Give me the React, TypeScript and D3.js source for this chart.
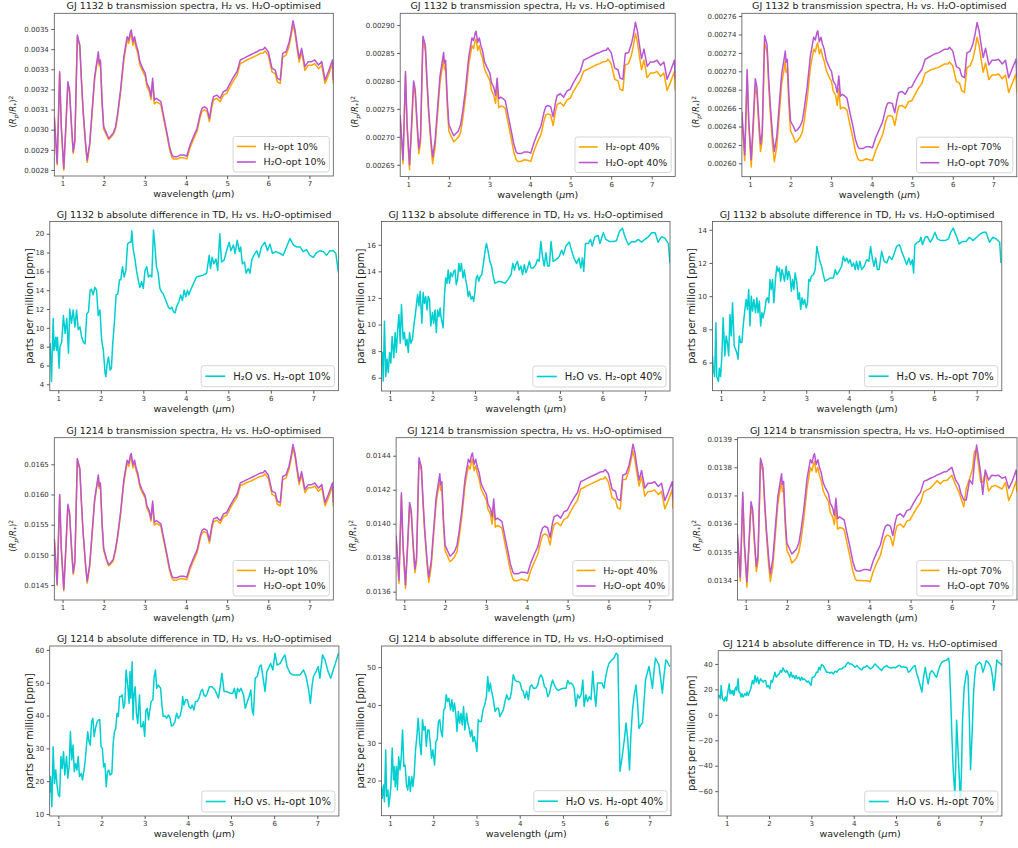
import React, { useEffect, useRef } from 'react'
import * as d3 from 'd3'

const FONT = "'DejaVu Sans', sans-serif"
const ORANGE = '#ffa500'
const PURPLE = '#ba55d3'
const CYAN = '#00ced1'

// wavelength grid of the transmission spectra (µm)
const wl = [
  0.80, 0.84, 0.87, 0.93, 0.97, 1.03, 1.08, 1.13, 1.17, 1.22,
  1.26, 1.30, 1.36, 1.39, 1.42, 1.46, 1.50, 1.56, 1.60, 1.66,
  1.72, 1.78, 1.84, 1.87, 1.89, 1.92, 1.96, 2.00, 2.07, 2.12,
  2.16, 2.23, 2.29, 2.34, 2.41, 2.49, 2.57, 2.61, 2.65, 2.67,
  2.71, 2.75, 2.79, 2.83, 2.88, 2.93, 2.97, 3.01, 3.05, 3.11,
  3.15, 3.19, 3.23, 3.28, 3.34, 3.39, 3.46, 3.54, 3.60, 3.66,
  3.70, 3.78, 3.86, 3.94, 4.02, 4.10, 4.18, 4.27, 4.35, 4.39,
  4.44, 4.51, 4.57, 4.63, 4.67, 4.75, 4.83, 4.91, 4.99, 5.07,
  5.16, 5.24, 5.32, 5.40, 5.48, 5.56, 5.64, 5.72, 5.80, 5.88,
  5.92, 6.00, 6.09, 6.17, 6.22, 6.29, 6.35, 6.43, 6.50, 6.55,
  6.60, 6.65, 6.70, 6.75, 6.81, 6.89, 6.97, 7.05, 7.13, 7.22,
  7.30, 7.38, 7.46, 7.56, 7.58,
]

// transit depth (Rp/R*)^2 in units of 1e-6
const gj1132H2_10 = [
  3057, 2924, 2825, 3280, 3007, 2799, 3006, 3229, 3188, 3006,
  2882, 2940, 3460, 3435, 3411, 3237, 3088, 2922, 2838, 2921,
  3085, 3250, 3333, 3374, 3317, 3333, 3134, 3002, 2973, 2951,
  2959, 2976, 3005, 3068, 3184, 3347, 3446, 3429, 3468, 3476,
  3418, 3443, 3404, 3379, 3321, 3298, 3281, 3265, 3215, 3190,
  3149, 3236, 3128, 3137, 3132, 3124, 3050, 2969, 2903, 2861,
  2854, 2854, 2862, 2860, 2855, 2910, 2951, 2993, 3066, 3091,
  3099, 3091, 3040, 3115, 3148, 3156, 3139, 3172, 3180, 3212,
  3245, 3270, 3328, 3337, 3346, 3354, 3361, 3369, 3378, 3381,
  3391, 3369, 3287, 3278, 3237, 3229, 3361, 3369, 3411, 3460,
  3523, 3477, 3403, 3336, 3386, 3295, 3320, 3320, 3328, 3303,
  3320, 3229, 3270, 3328, 3229,
]
const gj1132H2O_10 = [
  3065, 2932, 2833, 3288, 3015, 2808, 3015, 3238, 3197, 3015,
  2891, 2949, 3470, 3445, 3421, 3247, 3098, 2932, 2849, 2932,
  3098, 3263, 3346, 3387, 3330, 3346, 3147, 3015, 2982, 2957,
  2965, 2982, 3015, 3081, 3197, 3363, 3462, 3445, 3487, 3495,
  3437, 3462, 3421, 3396, 3338, 3313, 3296, 3280, 3230, 3205,
  3164, 3255, 3147, 3156, 3147, 3139, 3065, 2982, 2916, 2874,
  2866, 2866, 2874, 2874, 2869, 2924, 2965, 3007, 3081, 3106,
  3114, 3106, 3056, 3131, 3164, 3172, 3156, 3189, 3197, 3230,
  3263, 3288, 3346, 3354, 3363, 3371, 3379, 3387, 3396, 3399,
  3409, 3387, 3305, 3296, 3255, 3247, 3379, 3387, 3429, 3478,
  3541, 3495, 3421, 3354, 3404, 3313, 3338, 3338, 3346, 3321,
  3338, 3247, 3288, 3346, 3247,
]
const gj1132H2_40 = [
  2732, 2686, 2652, 2810, 2715, 2641, 2713, 2791, 2776, 2713,
  2670, 2690, 2871, 2863, 2854, 2794, 2742, 2684, 2652, 2681,
  2739, 2796, 2825, 2839, 2820, 2825, 2756, 2710, 2699, 2691,
  2694, 2699, 2708, 2731, 2771, 2829, 2863, 2858, 2872, 2875,
  2855, 2863, 2849, 2841, 2821, 2813, 2807, 2801, 2783, 2774,
  2760, 2789, 2752, 2755, 2754, 2751, 2725, 2696, 2673, 2659,
  2656, 2656, 2659, 2658, 2656, 2675, 2690, 2704, 2730, 2739,
  2741, 2739, 2720, 2746, 2758, 2761, 2755, 2766, 2769, 2781,
  2792, 2801, 2817, 2820, 2823, 2826, 2829, 2831, 2834, 2835,
  2839, 2831, 2803, 2800, 2785, 2783, 2829, 2831, 2846, 2863,
  2885, 2869, 2843, 2820, 2837, 2806, 2814, 2814, 2817, 2808,
  2814, 2783, 2797, 2817, 2783,
]
const gj1132H2O_40 = [
  2739, 2693, 2659, 2817, 2722, 2650, 2722, 2800, 2785, 2722,
  2679, 2699, 2880, 2872, 2863, 2803, 2751, 2693, 2664, 2693,
  2751, 2808, 2837, 2851, 2832, 2837, 2768, 2722, 2710, 2702,
  2705, 2710, 2722, 2745, 2785, 2843, 2877, 2872, 2886, 2889,
  2869, 2877, 2863, 2854, 2834, 2826, 2820, 2814, 2797, 2788,
  2774, 2805, 2768, 2771, 2768, 2765, 2739, 2710, 2687, 2673,
  2670, 2670, 2673, 2673, 2671, 2690, 2705, 2719, 2745, 2754,
  2756, 2754, 2736, 2762, 2774, 2777, 2771, 2782, 2785, 2797,
  2808, 2817, 2837, 2840, 2843, 2846, 2849, 2851, 2854, 2855,
  2859, 2851, 2823, 2820, 2805, 2803, 2849, 2851, 2866, 2883,
  2905, 2889, 2863, 2840, 2857, 2826, 2834, 2834, 2837, 2828,
  2834, 2803, 2817, 2837, 2803,
]
const gj1132H2_70 = [
  2650, 2623, 2603, 2696, 2640, 2596, 2638, 2684, 2675, 2638,
  2613, 2625, 2731, 2726, 2721, 2685, 2655, 2618, 2602, 2618,
  2652, 2686, 2702, 2711, 2699, 2702, 2662, 2635, 2629, 2623,
  2624, 2628, 2634, 2647, 2670, 2704, 2724, 2721, 2729, 2731,
  2719, 2724, 2716, 2711, 2701, 2696, 2692, 2689, 2679, 2674,
  2663, 2681, 2659, 2661, 2660, 2658, 2643, 2627, 2613, 2605,
  2603, 2603, 2605, 2604, 2603, 2614, 2622, 2631, 2646, 2651,
  2652, 2651, 2641, 2655, 2662, 2663, 2660, 2667, 2668, 2675,
  2682, 2687, 2698, 2700, 2702, 2703, 2704, 2706, 2708, 2708,
  2710, 2706, 2689, 2687, 2679, 2677, 2704, 2706, 2714, 2724,
  2737, 2728, 2713, 2699, 2709, 2691, 2696, 2696, 2697, 2692,
  2696, 2677, 2686, 2697, 2677,
]
const gj1132H2O_70 = [
  2656, 2629, 2609, 2702, 2646, 2604, 2646, 2692, 2683, 2646,
  2621, 2633, 2739, 2734, 2729, 2693, 2663, 2629, 2613, 2629,
  2663, 2697, 2713, 2722, 2710, 2713, 2673, 2646, 2640, 2635,
  2636, 2640, 2646, 2660, 2683, 2717, 2737, 2734, 2742, 2744,
  2732, 2737, 2729, 2724, 2712, 2707, 2703, 2700, 2690, 2685,
  2677, 2695, 2673, 2675, 2673, 2671, 2656, 2640, 2626, 2618,
  2616, 2616, 2618, 2618, 2617, 2628, 2636, 2645, 2660, 2665,
  2666, 2665, 2655, 2670, 2677, 2678, 2675, 2682, 2683, 2690,
  2697, 2702, 2713, 2715, 2717, 2719, 2720, 2722, 2724, 2724,
  2726, 2722, 2705, 2703, 2695, 2693, 2720, 2722, 2730, 2740,
  2753, 2744, 2729, 2715, 2725, 2707, 2712, 2712, 2713, 2708,
  2712, 2693, 2702, 2713, 2693,
]
const gj1214H2_10 = [
  15251, 14816, 14492, 15980, 15087, 14405, 15082, 15811, 15677, 15082,
  14677, 14866, 16570, 16488, 16410, 15841, 15354, 14811, 14531, 14803,
  15346, 15885, 16157, 16291, 16104, 16157, 15506, 15074, 14905, 14818,
  14838, 14898, 15069, 15285, 15664, 16198, 16522, 16466, 16604, 16630,
  16440, 16522, 16388, 16306, 16125, 16044, 15988, 15936, 15772, 15691,
  15557, 15844, 15491, 15520, 15499, 15473, 15231, 14959, 14744, 14606,
  14580, 14580, 14606, 14602, 14586, 14766, 14900, 15037, 15279, 15361,
  15384, 15358, 15194, 15440, 15548, 15574, 15521, 15629, 15655, 15764,
  15872, 15954, 16144, 16170, 16199, 16217, 16244, 16270, 16299, 16309,
  16342, 16270, 16002, 15972, 15838, 15812, 16246, 16272, 16409, 16569,
  16775, 16625, 16383, 16164, 16327, 16030, 16111, 16111, 16138, 16053,
  16108, 15811, 15945, 16135, 15811,
]
const gj1214H2O_10 = [
  15271, 14836, 14512, 16000, 15107, 14430, 15107, 15836, 15702, 15107,
  14702, 14891, 16595, 16513, 16435, 15866, 15379, 14836, 14564, 14836,
  15379, 15918, 16190, 16324, 16137, 16190, 15539, 15107, 14930, 14840,
  14860, 14920, 15107, 15323, 15702, 16245, 16569, 16513, 16651, 16677,
  16487, 16569, 16435, 16353, 16163, 16082, 16026, 15974, 15810, 15729,
  15595, 15892, 15539, 15568, 15539, 15513, 15271, 14999, 14784, 14646,
  14620, 14620, 14646, 14646, 14630, 14810, 14944, 15081, 15323, 15405,
  15431, 15405, 15241, 15487, 15595, 15621, 15568, 15676, 15702, 15810,
  15918, 16000, 16190, 16216, 16245, 16271, 16298, 16324, 16353, 16363,
  16396, 16324, 16056, 16026, 15892, 15866, 16298, 16324, 16461, 16621,
  16827, 16677, 16435, 16216, 16379, 16082, 16163, 16163, 16190, 16108,
  16163, 15866, 16000, 16190, 15866,
]
const gj1214H2_40 = [
  13912, 13762, 13650, 14164, 13855, 13618, 13851, 14103, 14057, 13851,
  13711, 13777, 14366, 14337, 14310, 14114, 13945, 13758, 13654, 13748,
  13935, 14122, 14215, 14262, 14197, 14215, 13991, 13841, 13804, 13776,
  13785, 13804, 13835, 13910, 14041, 14229, 14341, 14321, 14369, 14378,
  14312, 14341, 14294, 14266, 14206, 14178, 14159, 14141, 14084, 14056,
  13998, 14101, 13979, 13989, 13983, 13974, 13890, 13796, 13722, 13674,
  13665, 13665, 13674, 13669, 13663, 13726, 13772, 13819, 13903, 13931,
  13940, 13931, 13875, 13960, 13997, 14006, 13988, 14025, 14034, 14071,
  14109, 14137, 14204, 14213, 14224, 14233, 14242, 14251, 14261, 14264,
  14276, 14244, 14151, 14141, 14095, 14086, 14259, 14261, 14311, 14372,
  14429, 14372, 14292, 14222, 14277, 14162, 14190, 14190, 14199, 14171,
  14190, 14088, 14134, 14199, 14088,
]
const gj1214H2O_40 = [
  13930, 13780, 13668, 14182, 13873, 13640, 13873, 14125, 14079, 13873,
  13733, 13799, 14388, 14359, 14332, 14136, 13967, 13780, 13686, 13780,
  13967, 14154, 14247, 14294, 14229, 14247, 14023, 13873, 13836, 13808,
  13817, 13836, 13873, 13948, 14079, 14267, 14379, 14359, 14407, 14416,
  14350, 14379, 14332, 14304, 14238, 14210, 14191, 14173, 14116, 14088,
  14042, 14145, 14023, 14033, 14023, 14014, 13930, 13836, 13762, 13714,
  13705, 13705, 13714, 13714, 13708, 13771, 13817, 13864, 13948, 13976,
  13985, 13976, 13920, 14005, 14042, 14051, 14033, 14070, 14079, 14116,
  14154, 14182, 14247, 14256, 14267, 14276, 14285, 14294, 14304, 14307,
  14319, 14294, 14201, 14191, 14145, 14136, 14285, 14294, 14341, 14397,
  14468, 14416, 14332, 14256, 14313, 14210, 14238, 14238, 14247, 14219,
  14238, 14136, 14182, 14247, 14136,
]
const gj1214H2_70 = [
  13550, 13462, 13396, 13697, 13517, 13375, 13512, 13659, 13632, 13512,
  13430, 13468, 13816, 13799, 13783, 13668, 13570, 13450, 13395, 13450,
  13560, 13669, 13724, 13751, 13713, 13724, 13592, 13505, 13484, 13460,
  13466, 13477, 13499, 13540, 13617, 13727, 13799, 13787, 13815, 13820,
  13782, 13799, 13771, 13755, 13717, 13700, 13689, 13678, 13641, 13624,
  13597, 13652, 13580, 13586, 13584, 13579, 13530, 13475, 13431, 13403,
  13398, 13398, 13397, 13397, 13394, 13433, 13461, 13488, 13537, 13554,
  13559, 13554, 13521, 13570, 13592, 13598, 13587, 13609, 13614, 13636,
  13658, 13674, 13713, 13720, 13726, 13738, 13752, 13741, 13753, 13753,
  13759, 13772, 13737, 13713, 13690, 13660, 13725, 13759, 13793, 13858,
  13857, 13803, 13747, 13747, 13780, 13716, 13731, 13736, 13730, 13723,
  13746, 13682, 13709, 13751, 13711,
]
const gj1214H2O_70 = [
  13564, 13476, 13410, 13711, 13531, 13394, 13531, 13678, 13651, 13531,
  13449, 13487, 13832, 13815, 13799, 13684, 13586, 13476, 13421, 13476,
  13586, 13695, 13750, 13777, 13739, 13750, 13618, 13531, 13509, 13492,
  13498, 13509, 13531, 13574, 13651, 13761, 13827, 13815, 13843, 13848,
  13810, 13827, 13799, 13783, 13745, 13728, 13717, 13706, 13673, 13656,
  13629, 13690, 13618, 13624, 13618, 13613, 13564, 13509, 13465, 13437,
  13432, 13432, 13437, 13437, 13434, 13470, 13498, 13525, 13574, 13591,
  13596, 13591, 13558, 13607, 13629, 13635, 13624, 13646, 13651, 13673,
  13695, 13711, 13750, 13755, 13761, 13766, 13772, 13777, 13783, 13785,
  13791, 13800, 13755, 13737, 13707, 13684, 13684, 13755, 13740, 13820,
  13879, 13831, 13778, 13704, 13790, 13755, 13772, 13770, 13772, 13761,
  13766, 13725, 13749, 13790, 13749,
]

// absolute difference in transit depth, [wavelength µm, ppm]
const diff1132_10: [number, number][] = [
  [0.80, 6.9], [0.81, 8.3], [0.84, 4.3], [0.88, 11.0], [0.90, 7.6], [0.94, 9.0], [0.96, 7.6], [0.98, 9.0],
  [1.02, 5.7], [1.04, 8.0], [1.08, 8.5], [1.12, 11.3], [1.16, 9.4], [1.20, 11.0], [1.24, 7.3], [1.27, 12.0],
  [1.31, 10.5], [1.35, 11.9], [1.39, 10.1], [1.43, 11.9], [1.47, 9.8], [1.51, 10.1], [1.55, 9.0], [1.59, 8.5],
  [1.63, 8.3], [1.67, 11.5], [1.71, 11.7], [1.75, 14.0], [1.78, 14.1], [1.82, 13.5], [1.86, 14.3], [1.90, 14.0],
  [1.94, 11.3], [1.98, 11.9], [2.02, 8.7], [2.06, 7.6], [2.10, 5.2], [2.12, 4.8], [2.15, 6.2], [2.18, 6.9],
  [2.22, 5.5], [2.25, 5.7], [2.28, 8.3], [2.32, 10.6], [2.36, 13.5], [2.40, 13.6], [2.44, 15.1], [2.47, 15.1],
  [2.51, 16.5], [2.55, 15.4], [2.59, 16.1], [2.63, 18.9], [2.67, 19.1], [2.71, 19.1], [2.73, 20.3], [2.76, 18.4],
  [2.80, 17.4], [2.84, 16.1], [2.88, 15.1], [2.92, 14.3], [2.96, 14.9], [3.00, 14.2], [3.04, 16.1], [3.08, 16.5],
  [3.12, 15.4], [3.16, 15.6], [3.20, 15.4], [3.24, 20.4], [3.27, 18.9], [3.31, 16.5], [3.35, 15.8], [3.39, 14.2],
  [3.43, 13.8], [3.47, 13.6], [3.53, 12.9], [3.59, 12.2], [3.63, 12.0], [3.67, 12.2], [3.71, 11.7], [3.75, 11.6],
  [3.78, 12.2], [3.84, 12.8], [3.88, 13.5], [3.92, 12.9], [3.96, 14.0], [4.00, 13.3], [4.04, 14.0], [4.07, 13.5],
  [4.11, 14.0], [4.18, 14.7], [4.25, 15.4], [4.33, 15.5], [4.41, 15.6], [4.49, 15.8], [4.55, 17.7], [4.58, 16.3],
  [4.62, 17.5], [4.66, 16.8], [4.71, 17.3], [4.75, 16.1], [4.80, 20.0], [4.84, 17.0], [4.90, 17.2], [4.96, 18.2],
  [5.02, 19.1], [5.06, 18.2], [5.12, 18.8], [5.16, 17.9], [5.21, 19.3], [5.26, 18.1], [5.29, 18.6], [5.33, 16.8],
  [5.38, 17.0], [5.42, 15.8], [5.47, 16.3], [5.51, 15.8], [5.55, 17.2], [5.60, 17.7], [5.67, 18.2], [5.72, 17.5],
  [5.78, 18.6], [5.86, 19.1], [5.92, 18.2], [5.98, 18.9], [6.04, 17.9], [6.12, 18.1], [6.22, 17.9], [6.29, 17.7],
  [6.37, 18.6], [6.45, 19.5], [6.53, 18.8], [6.61, 18.6], [6.69, 18.6], [6.76, 18.1], [6.84, 18.3], [6.92, 17.7],
  [7.00, 17.5], [7.08, 18.0], [7.16, 18.2], [7.24, 18.1], [7.31, 17.7], [7.39, 18.2], [7.47, 18.2], [7.53, 17.9],
  [7.59, 15.9],
]
const diff1132_40: [number, number][] = [
  [0.80, 6.9], [0.82, 7.9], [0.84, 5.75], [0.87, 10.25], [0.90, 6.1], [0.93, 7.4], [0.96, 6.4], [0.99, 7.9],
  [1.02, 7.1], [1.05, 9.1], [1.09, 7.5], [1.12, 9.4], [1.15, 7.9], [1.18, 9.6], [1.21, 10.75], [1.24, 8.6],
  [1.27, 11.5], [1.31, 8.9], [1.34, 9.4], [1.37, 8.4], [1.40, 8.9], [1.43, 7.9], [1.46, 9.4], [1.49, 8.6],
  [1.53, 8.9], [1.56, 9.9], [1.59, 10.6], [1.62, 11.4], [1.65, 12.25], [1.68, 11.4], [1.71, 12.5], [1.75, 10.1],
  [1.78, 12.4], [1.81, 11.6], [1.84, 12.1], [1.87, 11.1], [1.90, 12.1], [1.93, 11.9], [1.96, 9.9], [2.00, 10.9],
  [2.03, 10.1], [2.06, 11.1], [2.09, 9.4], [2.12, 11.1], [2.15, 10.6], [2.18, 11.25], [2.20, 10.6], [2.25, 9.75],
  [2.28, 12.1], [2.31, 13.5], [2.34, 13.1], [2.37, 14.1], [2.40, 13.1], [2.43, 13.9], [2.47, 13.6], [2.50, 14.0],
  [2.53, 14.1], [2.56, 13.0], [2.59, 13.4], [2.62, 14.6], [2.65, 14.0], [2.68, 14.6], [2.72, 13.5], [2.75, 14.1],
  [2.78, 13.4], [2.81, 12.9], [2.84, 12.1], [2.87, 12.5], [2.91, 11.9], [2.94, 12.1], [2.97, 11.75], [3.00, 12.5],
  [3.03, 13.5], [3.06, 13.7], [3.09, 13.25], [3.12, 13.6], [3.16, 13.75], [3.20, 14.6], [3.24, 15.6], [3.27, 16.1],
  [3.31, 15.5], [3.35, 14.75], [3.39, 14.4], [3.43, 13.6], [3.47, 13.1], [3.55, 13.25], [3.63, 13.2], [3.71, 13.1],
  [3.78, 13.4], [3.85, 13.75], [3.89, 14.6], [3.93, 14.1], [3.96, 14.5], [4.00, 14.75], [4.04, 14.1], [4.08, 14.4],
  [4.12, 13.75], [4.16, 14.5], [4.20, 13.9], [4.24, 14.25], [4.28, 14.75], [4.32, 14.25], [4.37, 14.25], [4.43, 14.5],
  [4.47, 14.9], [4.51, 14.75], [4.55, 16.25], [4.59, 15.1], [4.63, 14.4], [4.67, 15.4], [4.71, 14.4], [4.75, 14.4],
  [4.79, 16.25], [4.84, 14.75], [4.92, 14.9], [4.98, 15.1], [5.04, 15.6], [5.08, 15.25], [5.14, 15.9], [5.22, 16.2],
  [5.27, 15.6], [5.33, 15.0], [5.39, 14.6], [5.45, 15.0], [5.49, 14.25], [5.53, 15.0], [5.56, 14.0], [5.60, 16.1],
  [5.67, 16.1], [5.72, 16.4], [5.76, 15.9], [5.82, 16.6], [5.90, 16.7], [5.94, 16.1], [6.02, 16.9], [6.08, 16.4],
  [6.16, 16.25], [6.25, 16.25], [6.33, 16.3], [6.40, 17.0], [6.47, 17.25], [6.53, 16.6], [6.61, 16.0], [6.69, 16.25],
  [6.76, 16.2], [6.84, 16.4], [6.92, 16.2], [7.00, 16.4], [7.08, 16.6], [7.16, 16.9], [7.24, 16.9], [7.31, 16.2],
  [7.39, 16.6], [7.47, 16.5], [7.55, 16.1], [7.59, 14.6],
]
const diff1132_70: [number, number][] = [
  [0.80, 6.4], [0.82, 5.6], [0.85, 5.15], [0.88, 8.4], [0.90, 5.15], [0.94, 4.85], [0.96, 5.65], [0.99, 5.15],
  [1.02, 6.4], [1.05, 8.7], [1.09, 6.4], [1.12, 7.6], [1.15, 7.2], [1.18, 6.4], [1.21, 8.9], [1.24, 7.6],
  [1.27, 9.6], [1.31, 7.0], [1.34, 6.8], [1.37, 6.6], [1.40, 6.2], [1.43, 7.6], [1.46, 7.2], [1.49, 7.2],
  [1.52, 8.2], [1.56, 9.2], [1.59, 9.8], [1.62, 9.2], [1.65, 10.4], [1.68, 8.2], [1.71, 10.0], [1.74, 9.1],
  [1.77, 9.8], [1.81, 9.0], [1.84, 9.9], [1.87, 9.0], [1.90, 9.7], [1.93, 8.2], [1.96, 9.0], [1.99, 8.7],
  [2.03, 9.2], [2.06, 9.8], [2.09, 9.9], [2.12, 9.6], [2.15, 11.0], [2.18, 10.4], [2.21, 11.0], [2.24, 9.6],
  [2.28, 11.1], [2.31, 11.8], [2.34, 11.5], [2.37, 11.7], [2.40, 10.9], [2.43, 11.6], [2.46, 11.3], [2.49, 10.9],
  [2.53, 11.8], [2.56, 11.0], [2.59, 11.5], [2.62, 11.2], [2.65, 10.3], [2.68, 11.0], [2.71, 10.4], [2.74, 11.4],
  [2.78, 10.8], [2.81, 9.8], [2.84, 10.2], [2.87, 9.2], [2.90, 9.9], [2.93, 9.5], [2.96, 9.8], [3.00, 9.3],
  [3.03, 9.6], [3.06, 11.0], [3.09, 10.9], [3.12, 11.2], [3.17, 11.3], [3.21, 11.6], [3.25, 13.0], [3.28, 12.6],
  [3.32, 12.1], [3.36, 11.8], [3.40, 11.3], [3.44, 10.9], [3.50, 11.0], [3.57, 11.1], [3.64, 11.1], [3.68, 11.6],
  [3.72, 11.3], [3.77, 11.5], [3.83, 11.8], [3.87, 12.4], [3.91, 12.1], [3.95, 12.3], [3.99, 12.0], [4.03, 12.2],
  [4.07, 11.8], [4.11, 12.0], [4.15, 11.6], [4.18, 12.1], [4.22, 11.6], [4.26, 12.1], [4.30, 11.6], [4.36, 11.8],
  [4.42, 12.2], [4.47, 12.1], [4.51, 13.0], [4.55, 12.3], [4.59, 11.8], [4.63, 12.3], [4.67, 11.6], [4.71, 11.6],
  [4.77, 12.7], [4.83, 12.1], [4.89, 12.0], [4.95, 12.4], [5.01, 12.2], [5.07, 12.6], [5.12, 13.0], [5.19, 13.1],
  [5.24, 12.7], [5.30, 12.3], [5.36, 11.9], [5.41, 12.3], [5.45, 11.9], [5.49, 12.2], [5.52, 11.4], [5.55, 13.1],
  [5.61, 13.25], [5.66, 13.3], [5.69, 13.55], [5.73, 13.1], [5.79, 13.55], [5.84, 13.6], [5.91, 13.25], [5.96, 13.45],
  [6.02, 13.85], [6.08, 13.45], [6.16, 13.35], [6.26, 13.35], [6.34, 13.45], [6.39, 13.85], [6.45, 14.1], [6.52, 13.65],
  [6.59, 13.15], [6.67, 13.3], [6.75, 13.3], [6.83, 13.55], [6.91, 13.35], [7.00, 13.55], [7.08, 13.75], [7.16, 13.85],
  [7.22, 13.85], [7.30, 13.25], [7.38, 13.55], [7.46, 13.45], [7.54, 13.25], [7.57, 12.0],
]
const diff1214_10: [number, number][] = [
  [0.80, 16.5], [0.82, 21.4], [0.85, 12.2], [0.88, 30.5], [0.91, 19.3], [0.94, 23.4], [0.97, 18.8], [1.00, 15.8],
  [1.03, 15.3], [1.06, 27.5], [1.09, 23.9], [1.12, 29.0], [1.15, 21.9], [1.19, 27.5], [1.22, 20.9], [1.25, 24.4],
  [1.28, 35.1], [1.31, 26.5], [1.34, 31.0], [1.37, 22.9], [1.40, 25.4], [1.43, 23.4], [1.46, 27.5], [1.49, 21.4],
  [1.53, 22.4], [1.56, 20.4], [1.59, 22.9], [1.62, 26.0], [1.65, 30.5], [1.68, 35.1], [1.71, 32.1], [1.74, 31.0],
  [1.77, 38.1], [1.80, 39.2], [1.83, 33.6], [1.86, 36.1], [1.90, 38.1], [1.93, 38.7], [1.96, 38.7], [1.99, 30.5],
  [2.02, 30.0], [2.05, 24.4], [2.08, 25.4], [2.11, 18.3], [2.14, 22.9], [2.17, 23.4], [2.20, 21.9], [2.24, 22.4],
  [2.27, 31.5], [2.30, 35.1], [2.33, 36.1], [2.36, 40.7], [2.39, 39.7], [2.42, 45.8], [2.45, 45.8], [2.48, 46.3],
  [2.51, 42.2], [2.54, 43.7], [2.57, 53.9], [2.61, 48.8], [2.64, 43.7], [2.66, 53.4], [2.68, 45.3], [2.71, 56.4],
  [2.73, 38.7], [2.75, 45.8], [2.78, 48.8], [2.81, 40.7], [2.84, 37.6], [2.88, 46.3], [2.91, 36.6], [2.94, 36.6],
  [2.97, 38.1], [3.00, 33.6], [3.03, 41.7], [3.06, 42.2], [3.09, 38.7], [3.12, 41.7], [3.15, 44.3], [3.19, 44.8],
  [3.22, 51.9], [3.25, 53.9], [3.28, 48.3], [3.31, 49.3], [3.34, 48.8], [3.37, 48.3], [3.40, 43.2], [3.43, 39.7],
  [3.47, 39.9], [3.51, 39.2], [3.55, 40.2], [3.59, 39.2], [3.62, 36.8], [3.66, 37.1], [3.70, 38.1], [3.74, 40.7],
  [3.78, 39.2], [3.82, 39.9], [3.86, 42.2], [3.88, 45.8], [3.91, 43.2], [3.95, 44.8], [3.99, 44.8], [4.03, 42.7],
  [4.07, 42.2], [4.10, 43.2], [4.14, 41.7], [4.18, 44.3], [4.22, 44.3], [4.26, 45.3], [4.30, 47.3], [4.34, 48.0],
  [4.37, 46.3], [4.41, 45.8], [4.45, 46.8], [4.50, 48.8], [4.56, 48.8], [4.63, 47.8], [4.71, 45.3], [4.75, 48.8],
  [4.79, 52.9], [4.84, 47.3], [4.90, 47.3], [4.98, 46.8], [5.04, 46.8], [5.08, 48.3], [5.12, 45.3], [5.15, 48.3],
  [5.19, 47.3], [5.23, 48.3], [5.29, 46.3], [5.33, 42.2], [5.38, 44.3], [5.42, 45.8], [5.46, 47.8], [5.49, 41.7],
  [5.52, 40.2], [5.56, 51.4], [5.61, 51.9], [5.66, 54.9], [5.70, 55.4], [5.75, 50.9], [5.79, 47.3], [5.83, 53.4],
  [5.87, 54.4], [5.92, 55.9], [5.97, 53.9], [6.02, 59.0], [6.07, 55.4], [6.14, 55.9], [6.20, 57.5], [6.25, 58.5],
  [6.30, 54.9], [6.37, 52.9], [6.44, 52.4], [6.52, 52.4], [6.60, 52.4], [6.68, 53.9], [6.74, 51.9], [6.80, 47.8],
  [6.84, 43.7], [6.88, 49.3], [6.91, 51.9], [6.97, 53.4], [7.02, 54.9], [7.06, 51.4], [7.12, 58.5], [7.18, 56.9],
  [7.25, 53.4], [7.31, 51.4], [7.37, 53.9], [7.43, 56.4], [7.49, 59.0],
]
const diff1214_40: [number, number][] = [
  [0.80, 18.4], [0.82, 15.3], [0.85, 18.8], [0.87, 14.4], [0.90, 28.1], [0.92, 15.8], [0.95, 17.5], [0.97, 13.1],
  [0.99, 14.9], [1.02, 18.4], [1.05, 28.6], [1.08, 20.2], [1.10, 23.7], [1.12, 18.4], [1.15, 23.7], [1.17, 17.5],
  [1.20, 26.3], [1.23, 22.8], [1.26, 26.3], [1.29, 33.4], [1.32, 23.7], [1.35, 24.1], [1.38, 18.8], [1.41, 17.5],
  [1.44, 21.1], [1.47, 17.1], [1.50, 21.1], [1.53, 18.4], [1.56, 21.9], [1.59, 28.1], [1.62, 31.6], [1.65, 36.5],
  [1.69, 29.9], [1.72, 26.8], [1.75, 36.1], [1.78, 33.4], [1.81, 34.3], [1.84, 29.0], [1.87, 33.4], [1.90, 33.4],
  [1.93, 29.9], [1.96, 25.9], [1.99, 28.1], [2.03, 24.1], [2.06, 30.3], [2.09, 30.8], [2.12, 35.6], [2.15, 36.1],
  [2.18, 33.0], [2.21, 31.6], [2.24, 38.7], [2.27, 39.1], [2.30, 42.7], [2.33, 40.9], [2.36, 41.8], [2.40, 38.7],
  [2.43, 41.4], [2.46, 38.3], [2.49, 40.5], [2.52, 37.8], [2.55, 33.0], [2.58, 38.3], [2.61, 35.2], [2.64, 37.8],
  [2.67, 34.7], [2.70, 39.6], [2.73, 33.4], [2.77, 37.8], [2.80, 35.2], [2.83, 33.8], [2.86, 31.6], [2.89, 33.4],
  [2.92, 30.3], [2.95, 31.6], [2.98, 29.9], [3.01, 27.7], [3.04, 36.1], [3.07, 35.6], [3.11, 35.6], [3.15, 38.7],
  [3.19, 40.0], [3.23, 42.2], [3.26, 47.5], [3.29, 43.6], [3.32, 45.8], [3.35, 43.6], [3.39, 41.4], [3.43, 38.3],
  [3.47, 39.1], [3.51, 39.1], [3.54, 36.9], [3.58, 37.8], [3.62, 38.7], [3.66, 40.9], [3.70, 42.7], [3.74, 41.4],
  [3.78, 41.8], [3.81, 43.6], [3.85, 48.0], [3.89, 46.6], [3.93, 46.2], [3.97, 46.2], [4.01, 45.8], [4.05, 44.0],
  [4.08, 43.6], [4.12, 41.8], [4.16, 43.6], [4.20, 41.4], [4.24, 44.9], [4.28, 45.3], [4.32, 44.4], [4.37, 44.4],
  [4.42, 45.3], [4.45, 47.1], [4.49, 48.0], [4.53, 47.1], [4.57, 44.9], [4.61, 44.4], [4.65, 42.2], [4.69, 43.1],
  [4.72, 44.9], [4.76, 46.6], [4.80, 45.3], [4.84, 44.4], [4.89, 43.8], [4.95, 44.2], [5.01, 44.4], [5.07, 44.4],
  [5.11, 46.5], [5.15, 45.6], [5.19, 45.8], [5.23, 45.3], [5.26, 44.4], [5.30, 39.6], [5.34, 42.7], [5.38, 41.8],
  [5.42, 42.7], [5.46, 46.6], [5.49, 39.6], [5.53, 42.7], [5.57, 40.9], [5.61, 42.2], [5.65, 41.4], [5.69, 48.9],
  [5.72, 44.4], [5.76, 39.6], [5.80, 45.8], [5.84, 45.8], [5.90, 45.8], [5.95, 44.4], [5.99, 47.5], [6.03, 49.7],
  [6.07, 51.1], [6.13, 51.9], [6.18, 52.4], [6.23, 53.7], [6.27, 53.3], [6.32, 22.4], [6.37, 26.3], [6.42, 30.8],
  [6.46, 35.2], [6.50, 30.8], [6.54, 22.8], [6.57, 31.6], [6.61, 38.7], [6.65, 42.7], [6.69, 45.3], [6.73, 40.0],
  [6.76, 33.8], [6.80, 34.7], [6.84, 35.2], [6.88, 41.4], [6.91, 46.6], [6.95, 48.4], [6.99, 50.2], [7.03, 47.5],
  [7.07, 44.4], [7.11, 49.3], [7.14, 52.4], [7.18, 51.5], [7.22, 50.6], [7.26, 47.1], [7.30, 43.1], [7.34, 48.0],
  [7.38, 51.9], [7.41, 51.5], [7.45, 50.6], [7.48, 50.2],
]
const diff1214_70: [number, number][] = [
  [0.80, 14.0], [0.82, 15.3], [0.85, 12.7], [0.87, 23.1], [0.90, 12.7], [0.92, 11.9], [0.94, 10.9], [0.97, 14.0],
  [1.00, 10.9], [1.02, 16.6], [1.06, 24.4], [1.08, 16.6], [1.10, 19.2], [1.13, 16.6], [1.15, 19.2], [1.17, 15.3],
  [1.20, 20.5], [1.22, 21.8], [1.24, 19.2], [1.27, 28.3], [1.29, 17.9], [1.31, 17.9], [1.34, 14.0], [1.36, 16.6],
  [1.39, 14.0], [1.41, 15.3], [1.43, 16.6], [1.46, 15.3], [1.48, 17.9], [1.51, 15.3], [1.54, 17.9], [1.57, 20.5],
  [1.61, 27.0], [1.64, 24.4], [1.67, 30.9], [1.70, 25.7], [1.73, 29.6], [1.76, 24.4], [1.80, 28.3], [1.83, 27.0],
  [1.86, 25.7], [1.89, 27.0], [1.92, 27.0], [1.95, 21.8], [1.98, 23.1], [2.02, 20.5], [2.05, 27.0], [2.08, 25.7],
  [2.11, 29.6], [2.14, 33.5], [2.17, 29.6], [2.20, 30.9], [2.24, 32.2], [2.27, 34.8], [2.30, 33.5], [2.33, 36.9],
  [2.36, 34.8], [2.39, 33.5], [2.42, 34.8], [2.46, 32.2], [2.49, 29.6], [2.52, 33.5], [2.55, 29.6], [2.58, 30.9],
  [2.61, 28.3], [2.64, 30.9], [2.67, 28.3], [2.71, 29.6], [2.74, 27.0], [2.77, 29.6], [2.80, 27.5], [2.83, 28.3],
  [2.87, 27.0], [2.90, 25.7], [2.93, 26.5], [2.96, 24.9], [2.99, 23.1], [3.02, 29.6], [3.06, 29.6], [3.09, 30.9],
  [3.12, 33.5], [3.15, 33.5], [3.18, 37.4], [3.21, 35.3], [3.24, 39.5], [3.28, 38.7], [3.32, 36.1], [3.36, 33.5],
  [3.40, 33.5], [3.44, 32.7], [3.48, 33.5], [3.52, 32.2], [3.56, 34.3], [3.60, 33.5], [3.64, 35.3], [3.68, 36.1],
  [3.72, 36.1], [3.76, 37.4], [3.80, 37.9], [3.83, 40.0], [3.87, 41.3], [3.91, 40.0], [3.95, 40.0], [3.99, 38.7],
  [4.03, 37.4], [4.07, 38.7], [4.11, 37.4], [4.15, 36.1], [4.19, 35.3], [4.23, 37.4], [4.27, 37.4], [4.31, 38.7],
  [4.35, 37.4], [4.39, 36.1], [4.43, 36.9], [4.46, 37.9], [4.50, 40.0], [4.54, 38.7], [4.58, 37.4], [4.62, 36.1],
  [4.66, 34.8], [4.70, 36.9], [4.74, 37.9], [4.78, 38.7], [4.82, 37.4], [4.86, 36.9], [4.90, 36.9], [4.94, 37.4],
  [4.98, 36.9], [5.02, 37.9], [5.06, 38.7], [5.09, 38.7], [5.13, 37.4], [5.17, 37.9], [5.21, 37.4], [5.25, 37.4],
  [5.29, 33.5], [5.33, 34.3], [5.37, 36.1], [5.41, 37.9], [5.45, 38.7], [5.49, 32.2], [5.53, 28.3], [5.57, 23.1],
  [5.61, 17.9], [5.65, 29.6], [5.69, 37.4], [5.72, 30.9], [5.76, 24.4], [5.80, 32.2], [5.84, 34.8], [5.88, 33.5],
  [5.92, 31.0], [5.96, 29.6], [6.00, 34.8], [6.04, 38.7], [6.08, 41.3], [6.12, 42.1], [6.16, 42.6], [6.20, 43.1],
  [6.24, 44.7], [6.26, 40.0], [6.29, 14.0], [6.32, -17.1], [6.35, -43.1], [6.39, -63.9], [6.41, -37.9], [6.43, -4.2],
  [6.46, -24.9], [6.50, -53.5], [6.52, -71.7], [6.55, -37.9], [6.57, -4.2], [6.61, 21.8], [6.64, 28.3], [6.67, 34.8],
  [6.70, 31.0], [6.73, -1.6], [6.76, -43.1], [6.80, -12.0], [6.83, 16.6], [6.86, 30.9], [6.89, 38.7], [6.93, 40.0],
  [6.97, 41.3], [7.01, 40.0], [7.05, 33.5], [7.09, 37.4], [7.13, 42.6], [7.17, 41.3], [7.20, 40.0], [7.24, 37.4],
  [7.28, 29.6], [7.31, 19.2], [7.35, 32.2], [7.38, 43.1], [7.42, 41.3], [7.46, 40.5], [7.50, 38.7],
]

// tick values
const xTicks = [1, 2, 3, 4, 5, 6, 7]
const yTicks1132_10 = [2800, 2900, 3000, 3100, 3200, 3300, 3400, 3500]
const yTicks1132_40 = [2650, 2700, 2750, 2800, 2850, 2900]
const yTicks1132_70 = [2600, 2620, 2640, 2660, 2680, 2700, 2720, 2740, 2760]
const yTicks1214_10 = [14500, 15000, 15500, 16000, 16500]
const yTicks1214_40 = [13600, 13800, 14000, 14200, 14400]
const yTicks1214_70 = [13400, 13500, 13600, 13700, 13800, 13900]
const yTicksD1132_10 = [4, 6, 8, 10, 12, 14, 16, 18, 20]
const yTicksD1132_40 = [6, 8, 10, 12, 14, 16]
const yTicksD1132_70 = [6, 8, 10, 12, 14]
const yTicksD1214_10 = [10, 20, 30, 40, 50, 60]
const yTicksD1214_40 = [20, 30, 40, 50]
const yTicksD1214_70 = [-60, -40, -20, 0, 20, 40]

const specTitle = (p: string) => `GJ ${p} b transmission spectra, H₂ vs. H₂O-optimised`
const diffTitle = (p: string) => `GJ ${p} b absolute difference in TD, H₂ vs. H₂O-optimised`

// value stored in 1e-6 -> "0.00xx"
const depthFmt = (dec: number) => (v: number) => {
  const n = Math.round(v / Math.pow(10, 6 - dec))
  return '0.' + String(n).padStart(dec, '0')
}
const ppmFmt = (v: number) => (v < 0 ? '\u2212' + Math.abs(v) : String(v))

interface Line { x: number[]; y: number[]; color: string; label: string }
interface Panel {
  box: [number, number, number, number]
  xd: [number, number]
  yd: [number, number]
  yTicks: number[]
  fmt: (v: number) => string
  title: string
  spec: boolean
  labelX: number
  lines: Line[]
}

const specLines = (h2: number[], h2o: number[], pct: string): Line[] => [
  { x: wl, y: h2, color: ORANGE, label: `H₂-opt ${pct}` },
  { x: wl, y: h2o, color: PURPLE, label: `H₂O-opt ${pct}` },
]
const diffLine = (d: [number, number][], pct: string): Line[] => [
  { x: d.map(p => p[0]), y: d.map(p => p[1]), color: CYAN, label: `H₂O vs. H₂-opt ${pct}` },
]

const panels: Panel[] = [
  { box: [54.3, 13.3, 333.3, 176], xd: [0.8, 7.58], yd: [2770, 3578], yTicks: yTicks1132_10, fmt: depthFmt(4),
    title: specTitle('1132'), spec: true, labelX: 13.3, lines: specLines(gj1132H2_10, gj1132H2O_10, '10%') },
  { box: [400.2, 13.3, 675.2, 176.5], xd: [0.8, 7.58], yd: [2629, 2921], yTicks: yTicks1132_40, fmt: depthFmt(5),
    title: specTitle('1132'), spec: true, labelX: 355, lines: specLines(gj1132H2_40, gj1132H2O_40, '40%') },
  { box: [741.9, 13.3, 1016.8, 176.7], xd: [0.8, 7.58], yd: [2585.5, 2763], yTicks: yTicks1132_70, fmt: depthFmt(5),
    title: specTitle('1132'), spec: true, labelX: 696, lines: specLines(gj1132H2_70, gj1132H2O_70, '70%') },

  { box: [49.8, 221.5, 338.4, 390.7], xd: [0.8, 7.59], yd: [3.32, 21.3], yTicks: yTicksD1132_10, fmt: ppmFmt,
    title: diffTitle('1132'), spec: false, labelX: 29.3, lines: diffLine(diff1132_10, '10%') },
  { box: [381.5, 221.5, 670, 391], xd: [0.8, 7.59], yd: [5.0, 17.75], yTicks: yTicksD1132_40, fmt: ppmFmt,
    title: diffTitle('1132'), spec: false, labelX: 360.7, lines: diffLine(diff1132_40, '40%') },
  { box: [712.5, 221.5, 1001.8, 390.7], xd: [0.8, 7.59], yd: [4.3, 14.5], yTicks: yTicksD1132_70, fmt: ppmFmt,
    title: diffTitle('1132'), spec: false, labelX: 691.7, lines: diffLine(diff1132_70, '70%') },

  { box: [54.3, 437.7, 333.3, 600], xd: [0.8, 7.58], yd: [14251, 16941], yTicks: yTicks1214_10, fmt: depthFmt(4),
    title: specTitle('1214'), spec: true, labelX: 13.3, lines: specLines(gj1214H2_10, gj1214H2O_10, '10%') },
  { box: [396.1, 437.7, 673, 600], xd: [0.8, 7.58], yd: [13551, 14506], yTicks: yTicks1214_40, fmt: depthFmt(4),
    title: specTitle('1214'), spec: true, labelX: 353.3, lines: specLines(gj1214H2_40, gj1214H2O_40, '40%') },
  { box: [737.4, 437.7, 1017, 600], xd: [0.8, 7.58], yd: [13329, 13905], yTicks: yTicks1214_70, fmt: depthFmt(4),
    title: specTitle('1214'), spec: true, labelX: 696.7, lines: specLines(gj1214H2_70, gj1214H2O_70, '70%') },

  { box: [49.7, 646, 338.9, 816], xd: [0.8, 7.5], yd: [9.4, 61.2], yTicks: yTicksD1214_10, fmt: ppmFmt,
    title: diffTitle('1214'), spec: false, labelX: 29.3, lines: diffLine(diff1214_10, '10%') },
  { box: [381.4, 646, 671, 815.7], xd: [0.8, 7.5], yd: [10.7, 55.6], yTicks: yTicksD1214_40, fmt: ppmFmt,
    title: diffTitle('1214'), spec: false, labelX: 360.7, lines: diffLine(diff1214_40, '40%') },
  { box: [718.2, 650.7, 1001.9, 816], xd: [0.8, 7.5], yd: [-79.5, 50.4], yTicks: yTicksD1214_70, fmt: ppmFmt,
    title: diffTitle('1214'), spec: false, labelX: 691.7, lines: diffLine(diff1214_70, '70%') },
]

type G = d3.Selection<SVGGElement, unknown, null, undefined>

function drawLegend(g: G, lines: Line[], right: number, bottom: number, fs: number) {
  const pad = 0.4 * fs, hl = 2 * fs, gap = 0.8 * fs, step = 1.64 * fs, rowH = 1.3 * fs
  const h = 2 * pad + rowH + step * (lines.length - 1)
  const lg = g.append('g')
  const frame = lg.append('rect')
  const texts = lines.map(l => lg.append('text')
    .attr('font-family', FONT).attr('font-size', fs).attr('fill', '#222').text(l.label))
  const tw = d3.max(texts, t => (t.node() as SVGTextElement).getComputedTextLength()) || 0
  const w = 2 * pad + hl + gap + tw
  const x0 = right - 4 - w
  const y0 = bottom - 4 - h
  frame.attr('x', x0).attr('y', y0).attr('width', w).attr('height', h).attr('rx', 2.5)
    .attr('fill', '#fff').attr('fill-opacity', 0.8).attr('stroke', '#cccccc').attr('stroke-width', 0.8)
  lines.forEach((l, k) => {
    const cy = y0 + pad + rowH / 2 + k * step
    lg.insert('line', 'text').attr('x1', x0 + pad).attr('x2', x0 + pad + hl).attr('y1', cy).attr('y2', cy)
      .attr('stroke', l.color).attr('stroke-width', 1.6)
    texts[k].attr('x', x0 + pad + hl + gap).attr('y', cy + 0.35 * fs)
  })
}

function drawPanel(root: G, p: Panel, i: number) {
  const [l, t, r, b] = p.box
  const x = d3.scaleLinear().domain(p.xd).range([l, r])
  const y = d3.scaleLinear().domain(p.yd).range([b, t])
  const g = root.append('g')

  g.append('clipPath').attr('id', `clip-${i}`).append('rect')
    .attr('x', l).attr('y', t).attr('width', r - l).attr('height', b - t)

  p.lines.forEach(ln => {
    const line = d3.line<number>().x((_, k) => x(ln.x[k])).y(v => y(v))
    g.append('path').datum(ln.y).attr('d', line).attr('fill', 'none')
      .attr('stroke', ln.color).attr('stroke-width', 1.5).attr('stroke-linejoin', 'round')
      .attr('clip-path', `url(#clip-${i})`)
  })

  const xAxis = g.append('g').attr('transform', `translate(0,${b})`)
    .call(d3.axisBottom(x).tickValues(xTicks).tickSize(3).tickPadding(2.5).tickFormat(d => String(d)))
  const yAxis = g.append('g').attr('transform', `translate(${l},0)`)
    .call(d3.axisLeft(y).tickValues(p.yTicks).tickSize(3).tickPadding(2.5).tickFormat(d => p.fmt(+d)))
  ;[xAxis, yAxis].forEach(a => {
    a.select('.domain').remove()
    a.attr('font-family', FONT).attr('font-size', 7)
    a.selectAll('line').attr('stroke', '#333').attr('stroke-width', 0.8)
    a.selectAll('text').attr('fill', '#333')
  })

  g.append('rect').attr('x', l).attr('y', t).attr('width', r - l).attr('height', b - t)
    .attr('fill', 'none').attr('stroke', '#555').attr('stroke-width', 0.8)

  g.append('text').attr('x', (l + r) / 2).attr('y', t - 4).attr('text-anchor', 'middle')
    .attr('font-family', FONT).attr('font-size', 9.5).attr('fill', '#222').text(p.title)

  const xl = g.append('text').attr('x', (l + r) / 2).attr('y', b + 21).attr('text-anchor', 'middle')
    .attr('font-family', FONT).attr('font-size', 9.5).attr('fill', '#222')
  xl.append('tspan').text('wavelength (')
  xl.append('tspan').attr('font-style', 'italic').text('μ')
  xl.append('tspan').text('m)')

  if (p.spec) {
    const fs = 8.5
    const yl = g.append('text')
      .attr('transform', `translate(${p.labelX},${(t + b) / 2 + 17}) rotate(-90)`)
      .attr('y', fs * 0.35).attr('text-anchor', 'middle')
      .attr('font-family', FONT).attr('font-size', fs).attr('fill', '#222')
    const sub = fs * 0.22
    yl.append('tspan').text('(')
    yl.append('tspan').attr('font-style', 'italic').text('R')
    yl.append('tspan').attr('font-style', 'italic').attr('font-size', fs * 0.7).attr('dy', sub).text('p')
    yl.append('tspan').attr('dy', -sub).text('/')
    yl.append('tspan').attr('font-style', 'italic').text('R')
    yl.append('tspan').attr('font-size', fs * 0.7).attr('dy', sub).text('*')
    yl.append('tspan').attr('dy', -sub).text(')')
    yl.append('tspan').attr('font-size', fs * 0.7).attr('dy', -fs * 0.38).text('2')
    drawLegend(g, p.lines, r, b, 9.5)
  } else {
    g.append('text')
      .attr('transform', `translate(${p.labelX},${(t + b) / 2}) rotate(-90)`)
      .attr('y', 10 * 0.35).attr('text-anchor', 'middle')
      .attr('font-family', FONT).attr('font-size', 10).attr('fill', '#222')
      .text('parts per million [ppm]')
    drawLegend(g, p.lines, r, b, 10)
  }
}

export default function App() {
  const ref = useRef<SVGSVGElement>(null)

  useEffect(() => {
    if (!ref.current) return
    const svg = d3.select(ref.current)
    svg.selectAll('*').remove()
    const root = svg.append('g') as unknown as G
    panels.forEach((p, i) => drawPanel(root, p, i))
  }, [])

  return (
    <svg ref={ref} width={1018} height={848}
      style={{ position: 'absolute', left: 0, top: 0, background: '#fff' }} />
  )
}
